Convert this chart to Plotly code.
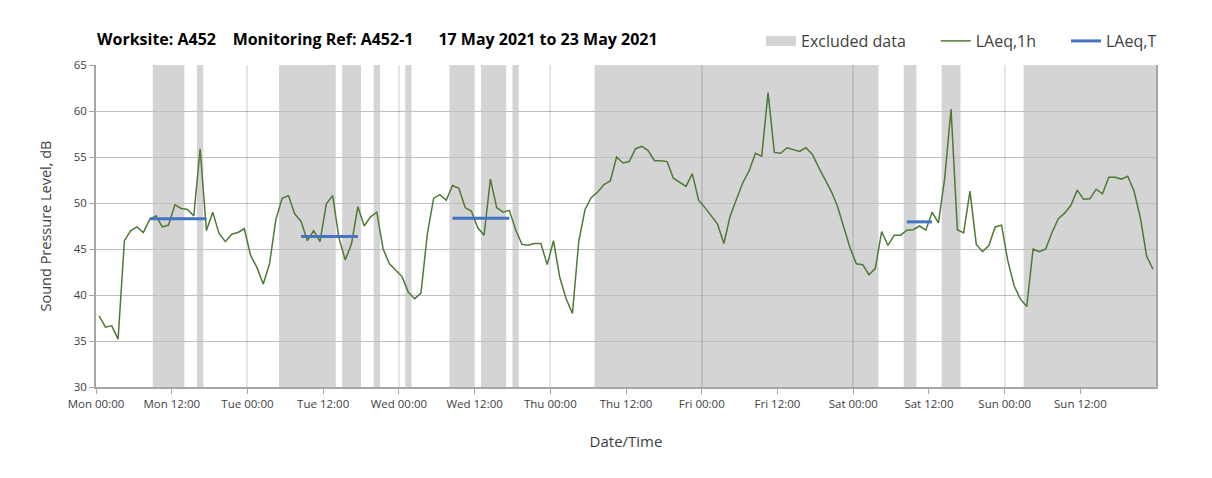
import pandas as pd
import plotly.graph_objects as go

start = pd.Timestamp('2021-05-17 00:00')

# hourly LAeq,1h values, Mon 00:00 .. Sun 23:00
laeq_1h = [
    37.7, 36.5, 36.65, 35.2, 45.9, 47.0, 47.4, 46.8, 48.2, 48.6, 47.4, 47.6,
    49.8, 49.4, 49.3, 48.6, 55.9, 47.0, 49.0, 46.7, 45.8, 46.6, 46.8, 47.2,
    44.3, 43.0, 41.2, 43.4, 48.2, 50.5, 50.8, 48.8, 48.0, 45.9, 47.0, 45.8,
    49.9, 50.8, 46.2, 43.8, 45.6, 49.6, 47.5, 48.5, 49.0, 45.0, 43.4, 42.7,
    42.0, 40.3, 39.6, 40.2, 46.6, 50.5, 50.9, 50.3, 51.9, 51.6, 49.5, 49.1,
    47.3, 46.5, 52.6, 49.5, 49.0, 49.2, 47.1, 45.5, 45.4, 45.6, 45.6, 43.3,
    45.9, 41.9, 39.6, 38.0, 45.8, 49.3, 50.6, 51.2, 52.0, 52.4, 55.0, 54.35,
    54.5, 55.9, 56.15, 55.7, 54.6, 54.6, 54.5, 52.7, 52.2, 51.8, 53.2, 50.3,
    49.5, 48.6, 47.7, 45.6, 48.6, 50.4, 52.2, 53.5, 55.4, 55.1, 62.0, 55.5,
    55.4, 56.0, 55.8, 55.6, 56.0, 55.3, 53.9, 52.6, 51.3, 49.65, 47.5, 45.1,
    43.4, 43.3, 42.2, 42.9, 46.9, 45.4, 46.5, 46.5, 47.05, 47.1, 47.5, 47.05,
    49.0, 47.85, 52.7, 60.2, 47.1, 46.75, 51.3, 45.5, 44.7, 45.4, 47.4, 47.6,
    43.7, 41.0, 39.55, 38.75, 45.0, 44.7, 45.0, 46.8, 48.3, 48.9, 49.75, 51.4,
    50.4, 50.45, 51.5, 51.0, 52.8, 52.8, 52.6, 52.9, 51.3, 48.4, 44.2, 42.8,
]

# excluded periods, hours from Mon 00:00
excluded_start = [9, 16, 29, 39, 44, 49, 56, 61, 66, 79, 128, 134, 147]
excluded_end = [14, 17, 38, 42, 45, 50, 60, 65, 67, 124, 130, 137, 168]

# LAeq,T periods (first and last hourly index) and levels
laeq_t_first = [8, 32, 56, 128]
laeq_t_last = [17, 41, 65, 132]
laeq_t_value = [48.3, 46.35, 48.35, 47.95]

times = [start + pd.Timedelta(hours=i + 0.5) for i in range(len(laeq_1h))]

t_x, t_y = [], []
for a, b, v in zip(laeq_t_first, laeq_t_last, laeq_t_value):
    for i in range(a, b + 1):
        t_x.append(times[i])
        t_y.append(v)
    t_x.append(None)
    t_y.append(None)

font = '"Open Sans", sans-serif'
x_range = [start, start + pd.Timedelta(hours=167.98)]
nb = '\u00a0'

fig = go.Figure()
fig.add_trace(go.Scatter(
    x=[None], y=[None], mode='lines', name='Excluded data' + nb * 6,
    line=dict(color='#D4D4D4', width=10), xaxis='x2', hoverinfo='skip'))
fig.add_trace(go.Scatter(
    x=times, y=laeq_1h, mode='lines', name='LAeq,1h' + nb * 6,
    line=dict(color='#4E7A34', width=1.5)))
fig.add_trace(go.Scatter(
    x=t_x, y=t_y, mode='lines', name='LAeq,T',
    line=dict(color='#4472C4', width=3)))

for a, b in zip(excluded_start, excluded_end):
    fig.add_vrect(x0=start + pd.Timedelta(hours=a), x1=start + pd.Timedelta(hours=b),
                  fillcolor='#D4D4D4', opacity=1, line_width=0, layer='below')

fig.update_layout(
    width=1212, height=478,
    margin=dict(l=88, r=64, t=57, b=99, autoexpand=False),
    paper_bgcolor='white', plot_bgcolor='white',
    font=dict(family=font, color='#404040'),
    title=dict(
        text='<b>Worksite: A452' + nb * 4 + 'Monitoring Ref: A452-1' + nb * 6
             + '17 May 2021 to 23 May 2021</b>',
        x=89 / 1212, xanchor='left', xref='container',
        y=1 - 31 / 478, yanchor='middle', yref='container',
        font=dict(size=16, color='#000000', family=font)),
    legend=dict(orientation='h', x=1154 / 1212, xanchor='right', xref='container',
                y=1 - 33 / 478, yanchor='middle', yref='container',
                font=dict(size=16, color='#404040'), bgcolor='rgba(0,0,0,0)'),
    xaxis=dict(
        type='date', range=x_range, tick0=start, dtick=12 * 3600 * 1000,
        tickformat='%a %H:%M', ticks='outside', ticklen=5, tickcolor='#A6A6A6',
        showline=True, linecolor='#A6A6A6', linewidth=1.5, showgrid=False,
        zeroline=False, tickfont=dict(size=11.5, color='#404040'), automargin=False,
        title=dict(text='Date/Time', font=dict(size=15, color='#404040'), standoff=27)),
    xaxis2=dict(
        type='date', overlaying='x', matches='x', range=x_range, tick0=start,
        dtick=24 * 3600 * 1000, showgrid=True, gridcolor='rgba(0,0,0,0.1)',
        gridwidth=1.5, showticklabels=False, ticks='', showline=False,
        zeroline=False, automargin=False),
    yaxis=dict(
        range=[30, 65], dtick=5, ticks='outside', ticklen=5, tickcolor='#A6A6A6',
        showline=True, mirror=True, linecolor='#A6A6A6', linewidth=1.5,
        showgrid=True, gridcolor='#BFBFBF', gridwidth=1.3, zeroline=False,
        tickfont=dict(size=11.5, color='#404040'), automargin=False,
        title=dict(text='Sound Pressure Level, dB', font=dict(size=14.5, color='#404040'),
                   standoff=19)),
    showlegend=True,
)

fig.write_html('out.html')
